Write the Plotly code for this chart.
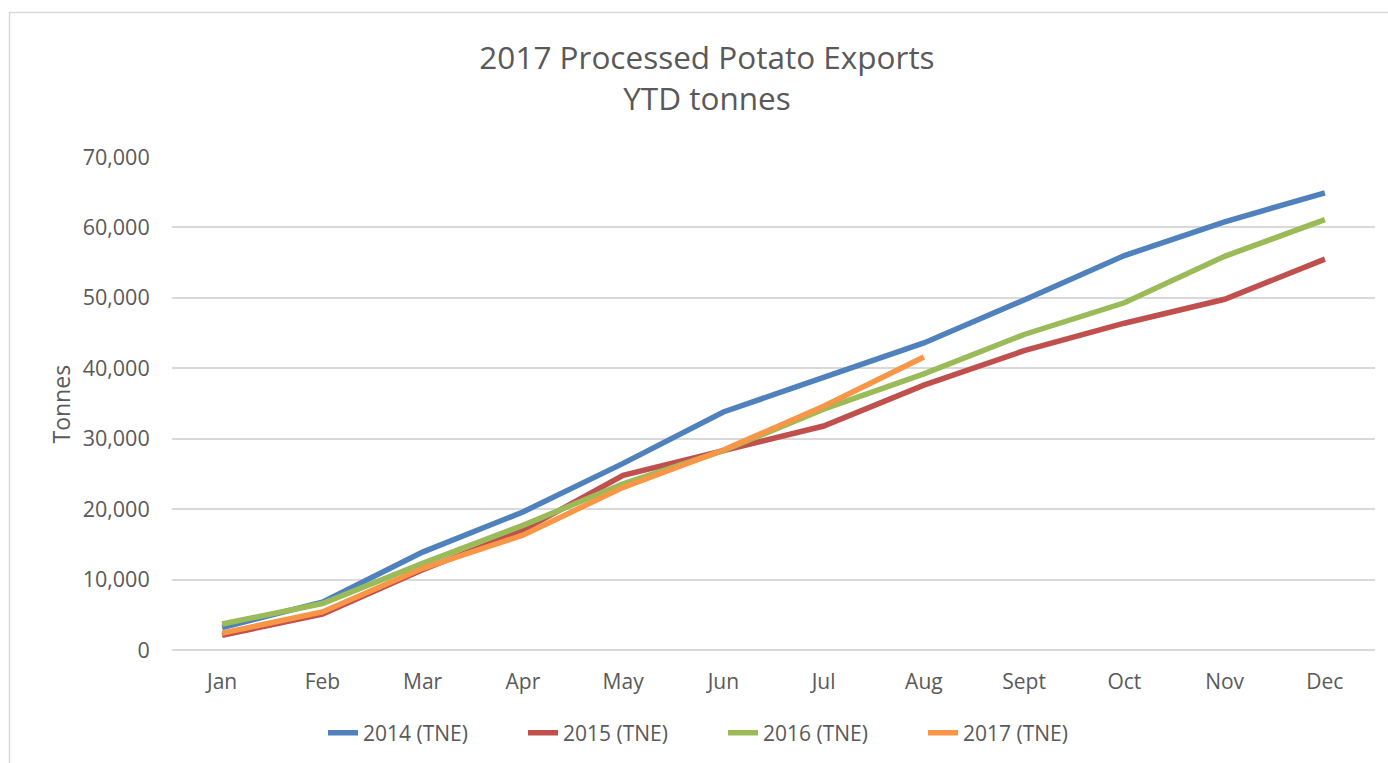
import plotly.graph_objects as go

months = ["Jan", "Feb", "Mar", "Apr", "May", "Jun", "Jul", "Aug", "Sept", "Oct", "Nov", "Dec"]
y2014 = [3200, 6800, 13900, 19600, 26500, 33800, 38700, 43600, 49700, 56000, 60800, 64900]
y2015 = [2100, 5100, 11400, 17000, 24800, 28300, 31800, 37600, 42500, 46400, 49800, 55500]
y2016 = [3700, 6600, 12300, 17700, 23600, 28300, 34200, 39200, 44800, 49300, 55900, 61100]
y2017 = [2400, 5400, 11600, 16300, 23100, 28400, 34600, 41600]

series = [
    ("2014 (TNE)", y2014, "#4F81BD"),
    ("2015 (TNE)", y2015, "#C0504D"),
    ("2016 (TNE)", y2016, "#9BBB59"),
    ("2017 (TNE)", y2017, "#F79646"),
]

fig = go.Figure()
for name, vals, color in series:
    fig.add_trace(go.Scatter(
        x=months[:len(vals)], y=vals, name=name, mode="lines",
        line=dict(color=color, width=5.5),
    ))

TXT = "#595959"
FONT = "Open Sans"
L, R, T, B = 172, 13, 157, 113
PW = 1388 - L - R
PH = 763 - T - B

fig.update_layout(
    width=1388, height=763, autosize=False,
    paper_bgcolor="white", plot_bgcolor="white",
    margin=dict(l=L, r=R, t=T, b=B, autoexpand=False),
    font=dict(family=FONT, color=TXT, size=21),
    title=dict(text="2017 Processed Potato Exports<br>YTD tonnes", x=(707 - L) / PW, xref="paper",
               xanchor="center", y=1 - 69 / 763, yref="container", yanchor="middle",
               font=dict(size=31.5, color=TXT, family=FONT)),
    showlegend=True,
    legend=dict(orientation="h", x=(323 - L) / PW, xanchor="left",
                y=(650 - 733) / PH, yanchor="middle",
                entrywidth=155, entrywidthmode="pixels",
                font=dict(size=21, color=TXT)),
    xaxis=dict(type="category", categoryorder="array", categoryarray=months,
               showgrid=False, showline=False, zeroline=False, automargin=False,
               ticks="outside", ticklen=13, tickcolor="rgba(0,0,0,0)",
               tickfont=dict(size=21, color=TXT), range=[-0.5, 11.5]),
    yaxis=dict(range=[0, 70000], dtick=10000, tickformat=",d", automargin=False,
               showgrid=True, gridcolor="#d9d9d9", gridwidth=1.5,
               zeroline=True, zerolinecolor="#d9d9d9", zerolinewidth=1.5,
               showline=False, ticks="outside", ticklen=17,
               tickcolor="rgba(0,0,0,0)", tickfont=dict(size=21.5, color=TXT)),
    annotations=[
        dict(text="Tonnes", xref="paper", yref="paper", textangle=-90,
             x=(60 - L) / PW, y=(650 - 403.5) / PH, xanchor="center", yanchor="middle",
             showarrow=False, font=dict(size=23, color=TXT, family=FONT)),
    ],
    shapes=[
        dict(type="rect", xref="paper", yref="paper",
             x0=(9.5 - L) / PW, x1=1.5, y0=-1, y1=(650 - 12.5) / PH,
             line=dict(color="#d9d9d9", width=1.5), fillcolor="rgba(0,0,0,0)", layer="below"),
    ],
)

fig.write_html("out.html", config={"displayModeBar": False},
               post_script="document.body.style.margin='0';document.body.style.overflow='hidden';")
